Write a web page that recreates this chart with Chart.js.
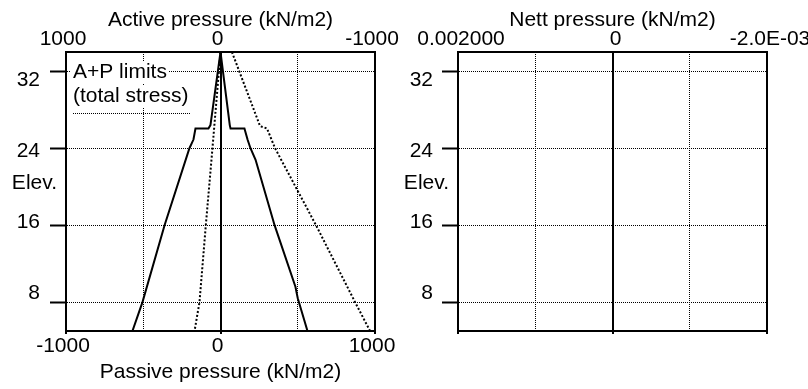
<!DOCTYPE html>
<html lang="en">
  <head>
    <meta charset="UTF-8" />
    <title>A+P limits and nett pressure</title>
    <script src="https://cdn.jsdelivr.net/npm/chart.js"></script>
    <style>
      body { margin: 0; background: #fff; }
      .panel { position: absolute; top: 0; }
      #limitsPanel { left: 0; }
      #nettPanel { left: 400px; }
    </style>
  </head>
  <body>
    <div class="panel" id="limitsPanel">
      <canvas id="limitsChart" width="400" height="389"></canvas>
    </div>
    <div class="panel" id="nettPanel">
      <canvas id="nettChart" width="408" height="389"></canvas>
    </div>

    <script>
      // elevation axis (shared by both panels)
      const elevTicks = [8, 16, 24, 32];
      const elevLabels = ["8", "16", "24", "32"];

      // pressure axes
      const pressTicks = [-1000, -500, 0, 500, 1000];
      const passiveLabels = ["-1000", "", "0", "", "1000"];
      const activeLabels = ["-1000", "", "0", "", "1000"];
      const nettTicks = [-0.002, -0.001, 0, 0.001, 0.002];
      const nettLabels = ["-2.0E-03", "", "0", "", "0.002000"];

      // A+P limit lines (kN/m2 vs elevation)
      const limitLeftPress = [0, -65, -78, -162, -175, -201, -362, -505, -570];
      const limitLeftElev = [34, 26.4, 26.05, 26.05, 24.9, 24, 16, 8, 5];
      const limitRightPress = [0, 60, 65, 155, 175, 194, 227, 350, 485, 500, 563];
      const limitRightElev = [34, 26.4, 26.05, 26.05, 24.9, 24, 22.8, 16, 9.6, 8.4, 5];
      // total stress lines (dotted)
      const totalInnerPress = [0, -52, -95, -136, -168];
      const totalInnerElev = [34, 24, 16, 8, 5];
      const totalOuterPress = [74, 256, 301, 353, 618, 871, 968];
      const totalOuterElev = [34, 26.3, 26.05, 24, 16, 8, 5];

      const FONT = { family: '"Liberation Sans", Arial, sans-serif', size: 21 };
      const FONT_CSS = '21px "Liberation Sans", Arial, sans-serif';
      Chart.defaults.font = FONT;
      Chart.defaults.color = "#000";

      const toPoints = (press, elev) => press.map((p, i) => ({ x: p, y: elev[i] }));

      // "Elev." caption + the little A+P legend box
      const annotate = {
        id: "annotate",
        afterDraw(chart, args, opts) {
          const { ctx, chartArea } = chart;
          ctx.save();
          ctx.font = FONT_CSS;
          ctx.fillStyle = "#000";
          ctx.textBaseline = "middle";
          ctx.textAlign = "right";
          ctx.fillText("Elev.", chartArea.left - 9, chartArea.top + 131);

          if (opts.legend) {
            ctx.textAlign = "left";
            const x = chartArea.left + 7;
            opts.legend.forEach((line, i) => {
              const y = chartArea.top + 20 + i * 24;
              const w = ctx.measureText(line).width;
              ctx.fillStyle = "#fff";
              ctx.fillRect(x - 2, y - 10, w + 4, 21);
              ctx.fillStyle = "#000";
              ctx.fillText(line, x, y);
            });
            ctx.strokeStyle = "#000";
            ctx.lineWidth = 1;
            ctx.setLineDash([1, 1]);
            ctx.beginPath();
            ctx.moveTo(x, chartArea.top + 61.5);
            ctx.lineTo(x + 117, chartArea.top + 61.5);
            ctx.stroke();
          }
          ctx.restore();
        },
      };

      function buildScales(ticks, topLabels, bottomLabels, cfg) {
        const lim = Math.max(...ticks.map(Math.abs));
        const solid = (c) => !c.tick || c.tick.value === 0 || Math.abs(c.tick.value) === lim;
        const setTicks = (vals) => (s) => { s.ticks = vals.map((v) => ({ value: v })); };

        return {
          x: {
            type: "linear",
            position: "bottom",
            min: -lim,
            max: lim,
            afterBuildTicks: setTicks(ticks),
            afterFit: (s) => { s.height = 58; s.paddingLeft = 0; s.paddingRight = 0; },
            ticks: {
              padding: 0,
              labelOffset: cfg.labelOffset,
              maxRotation: 0,
              minRotation: 0,
              autoSkip: false,
              callback: (v, i) => (bottomLabels ? bottomLabels[i] : ""),
            },
            title: {
              display: !!cfg.bottomTitle,
              text: cfg.bottomTitle || "",
              padding: { top: 0, bottom: 4 },
            },
            grid: {
              color: "#000",
              lineWidth: (c) => (solid(c) ? 2 : 1),
              tickLength: 3,
              tickWidth: 2,
              tickColor: (c) => (solid(c) ? "#000" : "rgba(0,0,0,0)"),
              tickBorderDash: [],
            },
            border: {
              display: true,
              width: 2,
              color: "#000",
              dash: (c) => (solid(c) ? [] : [1, 1]),
            },
          },
          x2: {
            type: "linear",
            position: "top",
            reverse: true,
            min: -lim,
            max: lim,
            afterBuildTicks: setTicks(ticks),
            afterFit: (s) => { s.height = 52; s.paddingLeft = 0; s.paddingRight = 0; },
            ticks: {
              padding: 0,
              labelOffset: cfg.labelOffset,
              maxRotation: 0,
              minRotation: 0,
              autoSkip: false,
              callback: (v, i) => topLabels[i],
            },
            title: {
              display: true,
              text: cfg.topTitle,
              padding: { top: 8, bottom: 0 },
            },
            grid: { display: false, drawTicks: false },
            border: { display: true, width: 2, color: "#000" },
          },
          y: {
            type: "linear",
            position: "left",
            weight: 0,
            min: 5,
            max: 34,
            afterBuildTicks: setTicks(elevTicks),
            afterFit: (s) => { s.width = 16; },
            ticks: { display: false },
            grid: {
              color: "#000",
              lineWidth: 1,
              tickLength: 16,
              tickWidth: 2,
              tickColor: "#000",
              tickBorderDash: [],
            },
            border: {
              display: true,
              width: 2,
              color: "#000",
              dash: (c) => (c.tick ? [1, 1] : []),
            },
          },
          // the original prints elevation labels on a slightly squeezed scale
          yLabels: {
            type: "linear",
            position: "left",
            weight: 1,
            min: 3.8,
            max: 35.15,
            afterBuildTicks: setTicks(elevTicks),
            afterFit: (s) => { s.width = cfg.labelWidth; },
            ticks: { padding: cfg.labelPad, callback: (v, i) => elevLabels[i] },
            grid: { display: false, drawTicks: false },
            border: { display: false },
          },
        };
      }

      const lineStyle = (dotted) => ({
        showLine: true,
        pointRadius: 0,
        borderColor: "#000",
        borderWidth: 2,
        borderDash: dotted ? [2, 2] : [],
        fill: false,
      });

      new Chart(document.getElementById("limitsChart"), {
        type: "scatter",
        data: {
          datasets: [
            { label: "Limit (left)", data: toPoints(limitLeftPress, limitLeftElev), ...lineStyle(false) },
            { label: "Limit (right)", data: toPoints(limitRightPress, limitRightElev), ...lineStyle(false) },
            { label: "Total stress (inner)", data: toPoints(totalInnerPress, totalInnerElev), ...lineStyle(true) },
            { label: "Total stress (outer)", data: toPoints(totalOuterPress, totalOuterElev), ...lineStyle(true) },
          ],
        },
        options: {
          responsive: false,
          animation: false,
          layout: { padding: { left: 0, right: 25, top: 0, bottom: 0 } },
          scales: buildScales(pressTicks, activeLabels, passiveLabels, {
            labelOffset: -3,
            topTitle: "Active pressure (kN/m2)",
            bottomTitle: "Passive pressure (kN/m2)",
            labelWidth: 50,
            labelPad: 10,
          }),
          plugins: {
            legend: { display: false },
            tooltip: { enabled: false },
            annotate: { legend: ["A+P limits", "(total stress)"] },
          },
        },
        plugins: [annotate],
      });

      new Chart(document.getElementById("nettChart"), {
        type: "scatter",
        data: { datasets: [] },
        options: {
          responsive: false,
          animation: false,
          layout: { padding: { left: 0, right: 41, top: 0, bottom: 0 } },
          scales: buildScales(nettTicks, nettLabels, null, {
            labelOffset: 3,
            topTitle: "Nett pressure (kN/m2)",
            bottomTitle: "",
            labelWidth: 42,
            labelPad: 9,
          }),
          plugins: {
            legend: { display: false },
            tooltip: { enabled: false },
            annotate: {},
          },
        },
        plugins: [annotate],
      });
    </script>
  </body>
</html>
